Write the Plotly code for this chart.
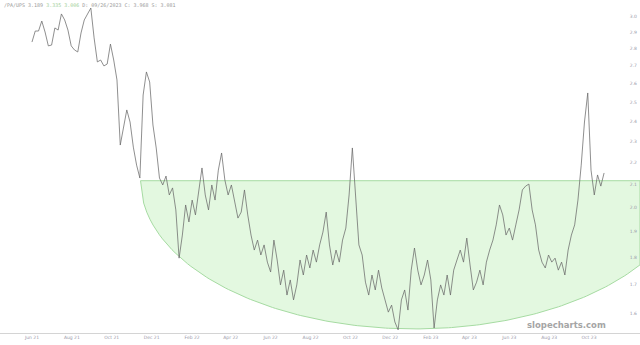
import numpy as np
import pandas as pd
import plotly.graph_objects as go

# ---- data ----
start_date = "2021-06-01"
step = "5D"
ratio_values = [
    2.839, 2.906, 2.906, 2.968, 2.900, 2.816, 2.821, 2.925, 2.912, 3.013,
    2.975, 2.912, 2.816, 2.792, 2.780, 2.894, 2.975, 3.013, 3.051, 2.864,
    2.722, 2.733, 2.699, 2.710, 2.827, 2.733, 2.620, 2.283, 2.367, 2.459,
    2.397, 2.273, 2.188, 2.129, 2.538, 2.665, 2.609, 2.382, 2.269, 2.129,
    2.098, 2.138, 2.054, 2.085, 1.990, 1.797, 1.887, 2.011, 1.940, 2.032,
    1.969, 2.076, 2.175, 2.054, 1.990, 2.098, 2.032, 2.165, 2.245, 2.120,
    2.054, 2.098, 2.032, 1.956, 1.981, 2.076, 1.969, 1.887, 1.828, 1.867,
    1.809, 1.848, 1.782, 1.745, 1.867, 1.790, 1.698, 1.752, 1.662, 1.716,
    1.645, 1.698, 1.790, 1.734, 1.809, 1.760, 1.828, 1.782, 1.848, 1.899,
    1.981, 1.848, 1.771, 1.828, 1.782, 1.867, 1.915, 2.054, 2.269, 2.032,
    1.848, 1.809, 1.708, 1.662, 1.734, 1.680, 1.752, 1.687, 1.645, 1.603,
    1.627, 1.570, 1.544, 1.645, 1.680, 1.610, 1.752, 1.836, 1.752, 1.698,
    1.734, 1.790, 1.716, 1.550, 1.645, 1.698, 1.662, 1.734, 1.662, 1.752,
    1.790, 1.828, 1.782, 1.875, 1.771, 1.680, 1.708, 1.752, 1.698, 1.782,
    1.828, 1.867, 1.928, 2.011, 1.969, 1.887, 1.915, 1.867, 1.928, 1.990,
    2.076, 2.093, 2.102, 1.990, 1.928, 1.828, 1.782, 1.760, 1.809, 1.782,
    1.797, 1.752, 1.782, 1.734, 1.828, 1.887, 1.928, 2.032, 2.188, 2.397,
    2.549, 2.165, 2.054, 2.143, 2.093, 2.152,
]
dates = pd.date_range(start_date, periods=len(ratio_values), freq=step)

y_tick_values = [1.6, 1.7, 1.8, 1.9, 2.0, 2.1, 2.2, 2.3, 2.4, 2.5, 2.6, 2.7, 2.8, 2.9, 3.0]
y_tick_labels = [f"{v:.1f}" for v in y_tick_values]
x_tick_dates = pd.date_range("2021-06-01", "2023-10-01", freq="2MS")
x_tick_labels = [d.strftime("%b %y") for d in x_tick_dates]

# cup / bowl annotation parameters
bowl_level = 2.117
bowl_bottom = 1.547
bowl_start = pd.Timestamp("2021-11-14")
bowl_center = pd.Timestamp("2023-01-07")
view_start = pd.Timestamp("2021-04-13 02:00")
view_end = pd.Timestamp("2023-12-17 22:00")

header = ("/PA/UPS 3.189 <span style='color:#9fd09b'>3.335 3.006</span> "
          "D: 09/26/2023 C: 3.968 S: 3.081")

# ---- bowl polygon ----
half_days = (bowl_center - bowl_start).days
u_end = (view_end - bowl_center) / pd.Timedelta(days=half_days)
u = np.linspace(-1, u_end, 160)
arc_x = [bowl_center + pd.Timedelta(days=float(k * half_days)) for k in u]
lo, hi = np.log10(bowl_bottom), np.log10(bowl_level)
arc_y = 10 ** (hi - (hi - lo) * np.sqrt(np.clip(1 - u ** 2, 0, 1)))
poly_x = [bowl_start, view_end] + arc_x[::-1]
poly_y = [bowl_level, bowl_level] + list(arc_y[::-1])

fig = go.Figure()
fig.add_trace(go.Scatter(
    x=poly_x, y=poly_y, mode="lines", fill="toself",
    fillcolor="rgba(224,247,221,0.9)",
    line=dict(color="#a6dba2", width=1), hoverinfo="skip"))
fig.add_trace(go.Scatter(
    x=dates, y=ratio_values, mode="lines",
    line=dict(color="#6a6a6a", width=0.75)))

fig.update_layout(
    width=640, height=345,
    margin=dict(l=0, r=0, t=0, b=12),
    paper_bgcolor="white", plot_bgcolor="white",
    showlegend=False,
    xaxis=dict(
        type="date", range=[view_start, view_end],
        tickvals=list(x_tick_dates), ticktext=x_tick_labels,
        tickfont=dict(family="DejaVu Sans", size=4.5, color="#9a9aaa"),
        showgrid=False, zeroline=False,
        showline=True, linecolor="#d4d4d4", linewidth=1, ticks=""),
    yaxis=dict(
        type="log", range=[0.18575, 0.49181], side="right",
        ticklabelposition="inside",
        tickvals=y_tick_values, ticktext=y_tick_labels,
        tickfont=dict(family="DejaVu Sans", size=4.5, color="#9a9aaa"),
        showgrid=False, zeroline=False, showline=False, ticks=""),
    annotations=[
        dict(text=header, xref="paper", yref="paper", x=0.003, y=1.0,
             xanchor="left", yanchor="top", showarrow=False,
             font=dict(family="DejaVu Sans Mono", size=5, color="#999999")),
        dict(text="<b>slopecharts.com</b>", xref="paper", yref="paper",
             x=0.95, y=0.0, xanchor="right", yanchor="bottom", yshift=1,
             showarrow=False,
             font=dict(family="DejaVu Sans", size=8.5, color="#a5a5a5")),
    ],
)

fig.write_html("out.html")
